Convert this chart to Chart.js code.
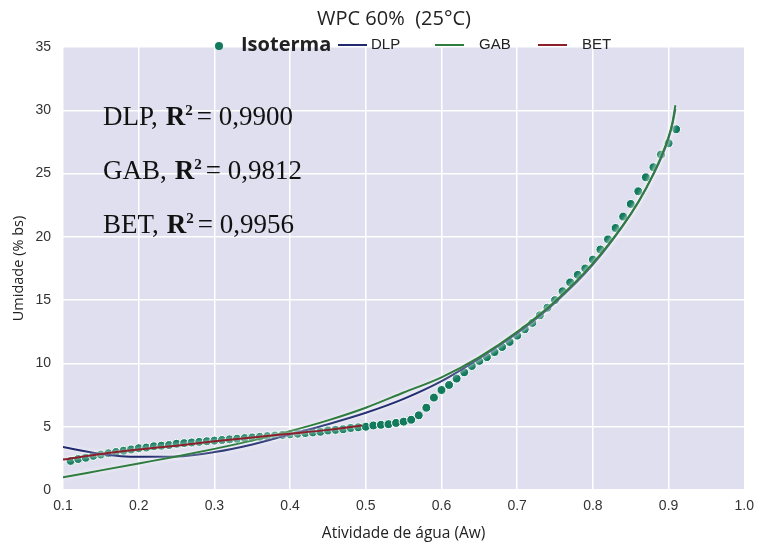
<!DOCTYPE html>
<html>
<head>
<meta charset="utf-8">
<script src="https://cdn.jsdelivr.net/npm/chart.js@4.4.1/dist/chart.umd.min.js"></script>
<style>
  html, body { margin: 0; padding: 0; background: #ffffff; }
  #wrap { width: 762px; height: 545px; }
</style>
</head>
<body>
<div id="wrap"><canvas id="chart" width="762" height="545"></canvas></div>
<script>
// isotherm points (Aw, moisture % bs)
let isoAw = [0.11,0.12,0.13,0.14,0.15,0.16,0.17,0.18,0.19,0.20,
             0.21,0.22,0.23,0.24,0.25,0.26,0.27,0.28,0.29,0.30,
             0.31,0.32,0.33,0.34,0.35,0.36,0.37,0.38,0.39,0.40,
             0.41,0.42,0.43,0.44,0.45,0.46,0.47,0.48,0.49,0.50,
             0.51,0.52,0.53,0.54,0.55,0.56,0.57,0.58,0.59,0.60,
             0.61,0.62,0.63,0.64,0.65,0.66,0.67,0.68,0.69,0.70,
             0.71,0.72,0.73,0.74,0.75,0.76,0.77,0.78,0.79,0.80,
             0.81,0.82,0.83,0.84,0.85,0.86,0.87,0.88,0.89,0.90,0.91];
let isoUmid = [2.3,2.45,2.55,2.7,2.8,2.9,3.0,3.1,3.2,3.3,
               3.35,3.45,3.5,3.55,3.65,3.7,3.75,3.8,3.85,3.9,
               3.95,4.0,4.05,4.1,4.15,4.2,4.25,4.3,4.35,4.4,
               4.45,4.5,4.55,4.6,4.7,4.75,4.8,4.9,4.95,5.0,
               5.1,5.15,5.2,5.3,5.4,5.55,5.9,6.5,7.3,7.9,
               8.3,8.8,9.3,9.8,10.2,10.5,10.9,11.3,11.7,12.2,
               12.7,13.2,13.8,14.4,15.0,15.7,16.4,17.0,17.5,18.2,
               19.0,19.8,20.7,21.6,22.6,23.6,24.7,25.5,26.5,27.4,28.5];

// fitted models
let fitAw  = [0.10,0.15,0.20,0.25,0.30,0.35,0.40,0.45,0.50,0.55,0.60,0.65,0.70,0.75,0.80,0.85,0.87,0.89,0.90,0.905,0.909];
let dlp    = [3.4,2.85,2.62,2.65,3.0,3.6,4.4,5.2,6.1,7.2,8.6,10.4,12.4,14.8,17.8,21.8,23.8,26.2,27.8,28.9,30.1];
let gab    = [1.0,1.55,2.1,2.65,3.25,3.9,4.65,5.5,6.5,7.7,8.9,10.5,12.5,14.9,17.9,21.8,23.8,26.3,27.9,29.0,30.4];
let betAw  = [0.10,0.15,0.20,0.25,0.30,0.35,0.40,0.45,0.495];
let bet    = [2.4,2.85,3.2,3.5,3.85,4.15,4.45,4.75,5.1];

let xTicks = [0.1,0.2,0.3,0.4,0.5,0.6,0.7,0.8,0.9,1.0];
let r2Labels = ['DLP', 'GAB', 'BET'];
let r2Values = ['0,9900', '0,9812', '0,9956'];

function pts(xs, ys){
    return xs.map((x, i) => ({x: x, y: ys[i]}));
}

let green = '#137a5e';
let colDLP = '#1f2a6e';
let colGAB = '#2e7d3e';
let colBET = '#8c1f2a';

// white halo round the fitted lines
const haloPlugin = {
    id: 'halo',
    beforeDatasetDraw(chart, args){
        if(chart.data.datasets[args.index].showLine){
            chart.ctx.save();
            chart.ctx.shadowColor = 'rgba(255,255,255,0.95)';
            chart.ctx.shadowBlur = 4;
        }
    },
    afterDatasetDraw(chart, args){
        if(chart.data.datasets[args.index].showLine) chart.ctx.restore();
    }
};

const textPlugin = {
    id: 'texts',
    afterDraw(chart){
        const ctx = chart.ctx;
        ctx.save();
        // title
        ctx.fillStyle = '#222';
        ctx.font = '20px "Open Sans"';
        ctx.textAlign = 'center';
        ctx.textBaseline = 'middle';
        ctx.fillText('WPC 60%  (25°C)', 394, 19);

        // legend
        ctx.textAlign = 'left';
        ctx.fillStyle = green;
        ctx.beginPath();
        ctx.arc(219, 46, 4, 0, Math.PI * 2);
        ctx.fill();
        ctx.fillStyle = '#222';
        ctx.font = 'bold 20px "Open Sans"';
        ctx.fillText('Isoterma', 241, 45);
        let items = [[338, colDLP, 'DLP', 371], [435, colGAB, 'GAB', 479], [538, colBET, 'BET', 582]];
        ctx.font = '15px "Liberation Sans"';
        items.forEach(it => {
            ctx.strokeStyle = it[1];
            ctx.lineWidth = 2;
            ctx.beginPath();
            ctx.moveTo(it[0], 45);
            ctx.lineTo(it[0] + 29, 45);
            ctx.stroke();
            ctx.fillStyle = '#222';
            ctx.fillText(it[2], it[3], 45);
        });

        // R2 annotations
        ctx.fillStyle = '#111';
        ctx.textBaseline = 'alphabetic';
        let baselines = [125, 179, 233];
        r2Labels.forEach((lab, i) => {
            let x = 103;
            let y = baselines[i];
            ctx.font = '27px "Liberation Serif"';
            ctx.fillText(lab + ',', x, y);
            x += ctx.measureText(lab + ',').width + 8;
            ctx.font = 'bold 27px "Liberation Serif"';
            ctx.fillText('R', x, y);
            x += ctx.measureText('R').width;
            ctx.font = 'bold 15px "Liberation Serif"';
            ctx.fillText('2', x, y - 10);
            x += ctx.measureText('2').width + 4;
            ctx.font = '27px "Liberation Serif"';
            ctx.fillText('= ' + r2Values[i], x, y);
        });
        ctx.restore();
    }
};

const ctx = document.getElementById('chart');

const chart = new Chart(ctx, {
    type: 'scatter',
    data: {
        datasets: [
            {
                label: 'Isoterma',
                data: pts(isoAw, isoUmid),
                backgroundColor: green,
                borderColor: '#ffffff',
                borderWidth: 1,
                pointRadius: 4.5,
                showLine: false,
                order: 4
            },
            {
                label: 'DLP',
                data: pts(fitAw, dlp),
                borderColor: colDLP,
                borderWidth: 2,
                pointRadius: 0,
                showLine: true,
                cubicInterpolationMode: 'monotone',
                order: 3
            },
            {
                label: 'GAB',
                data: pts(fitAw, gab),
                borderColor: colGAB,
                borderWidth: 2,
                pointRadius: 0,
                showLine: true,
                cubicInterpolationMode: 'monotone',
                order: 2
            },
            {
                label: 'BET',
                data: pts(betAw, bet),
                borderColor: colBET,
                borderWidth: 2,
                pointRadius: 0,
                showLine: true,
                cubicInterpolationMode: 'monotone',
                order: 1
            }
        ]
    },
    options: {
        responsive: false,
        animation: false,
        layout: { padding: { top: 47, right: 16, left: 0, bottom: 0 } },
        plugins: {
            legend: { display: false },
            title: { display: false },
            tooltip: { enabled: false }
        },
        scales: {
            x: {
                type: 'linear',
                min: 0.1,
                max: 1.0,
                afterBuildTicks: (scale) => { scale.ticks = xTicks.map(v => ({value: v})); },
                afterFit: (scale) => { scale.height = 55; },
                ticks: {
                    callback: (v) => Number(v).toFixed(1),
                    color: '#333',
                    font: { family: '"Liberation Sans"', size: 14 },
                    padding: 8
                },
                grid: { color: '#ffffff', lineWidth: 1.5, drawTicks: false },
                border: { display: false },
                title: {
                    display: true,
                    text: 'Atividade de água (Aw)',
                    color: '#222',
                    font: { family: '"Open Sans"', size: 15.5 },
                    padding: { top: 2, bottom: 2 }
                }
            },
            y: {
                min: 0,
                max: 35,
                afterFit: (scale) => { scale.width = 63; },
                ticks: {
                    stepSize: 5,
                    color: '#333',
                    font: { family: '"Liberation Sans"', size: 14 },
                    padding: 12
                },
                grid: { color: '#ffffff', lineWidth: 1.5, drawTicks: false },
                border: { display: false },
                title: {
                    display: true,
                    text: 'Umidade (% bs)',
                    color: '#222',
                    font: { family: '"Open Sans"', size: 14.5 },
                    padding: { top: 10, bottom: 2 }
                }
            }
        }
    },
    plugins: [haloPlugin, textPlugin, {
        id: 'plotBg',
        beforeDraw(chart){
            const a = chart.chartArea;
            chart.ctx.save();
            chart.ctx.fillStyle = '#dfdfef';
            chart.ctx.fillRect(a.left, a.top, a.right - a.left, a.bottom - a.top);
            chart.ctx.restore();
        }
    }]
});
</script>
</body>
</html>
